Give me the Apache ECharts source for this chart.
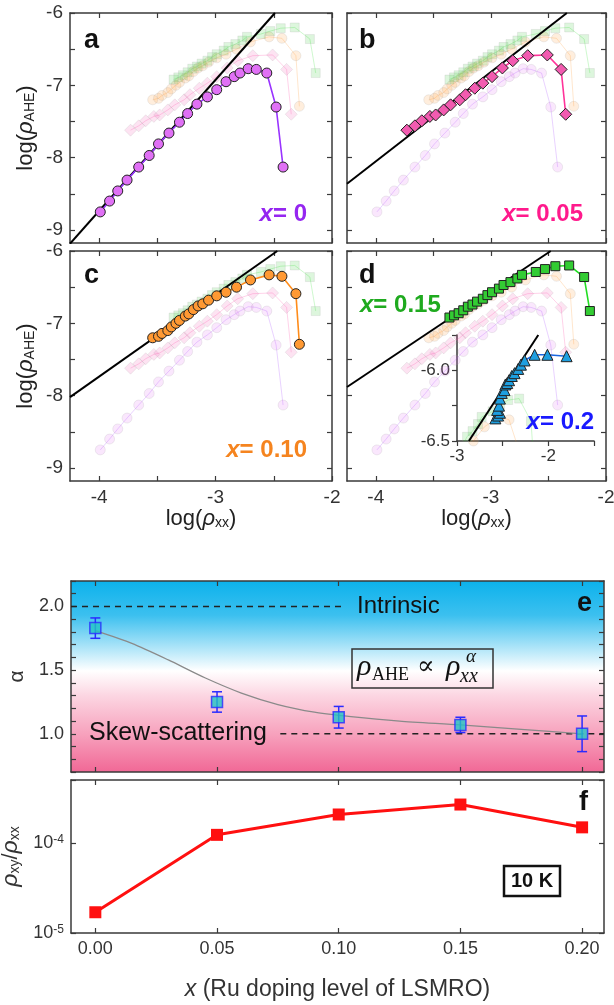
<!DOCTYPE html>
<html>
<head>
<meta charset="utf-8">
<script src="https://cdn.jsdelivr.net/npm/echarts@6/dist/echarts.min.js"></script>
<style>
html, body { margin: 0; padding: 0; background: #fff; }
#main { width: 614px; height: 1005px; }
</style>
</head>
<body>
<div id="main"></div>
<script>
var rxx0  = [-3.99, -3.91, -3.84, -3.76, -3.66, -3.57, -3.49, -3.40, -3.31, -3.24, -3.16, -3.07, -2.99, -2.91, -2.84, -2.79, -2.72, -2.65, -2.56, -2.48, -2.42];
var rahe0 = [-8.75, -8.60, -8.46, -8.31, -8.13, -7.97, -7.81, -7.66, -7.51, -7.39, -7.26, -7.16, -7.06, -6.95, -6.88, -6.83, -6.77, -6.78, -6.83, -7.30, -8.13];
var rxx05  = [-3.73, -3.66, -3.60, -3.53, -3.48, -3.41, -3.35, -3.27, -3.22, -3.14, -3.07, -2.99, -2.90, -2.81, -2.68, -2.51, -2.39, -2.35];
var rahe05 = [-7.62, -7.56, -7.49, -7.43, -7.41, -7.34, -7.27, -7.20, -7.13, -7.04, -6.97, -6.88, -6.76, -6.66, -6.59, -6.58, -6.78, -7.40];
var rxx10  = [-3.54, -3.49, -3.46, -3.41, -3.38, -3.34, -3.31, -3.26, -3.23, -3.19, -3.15, -3.11, -3.06, -2.99, -2.91, -2.82, -2.70, -2.54, -2.43, -2.31, -2.28];
var rahe10 = [-7.20, -7.18, -7.14, -7.10, -7.05, -7.00, -6.96, -6.90, -6.87, -6.81, -6.76, -6.73, -6.68, -6.62, -6.57, -6.50, -6.40, -6.33, -6.35, -6.59, -7.29];
var rxx15  = [-3.36, -3.32, -3.28, -3.24, -3.20, -3.16, -3.12, -3.07, -3.03, -2.99, -2.93, -2.89, -2.83, -2.77, -2.73, -2.61, -2.53, -2.44, -2.32, -2.19, -2.14];
var rahe15 = [-6.92, -6.89, -6.86, -6.82, -6.77, -6.74, -6.70, -6.66, -6.61, -6.57, -6.52, -6.47, -6.43, -6.38, -6.33, -6.29, -6.25, -6.21, -6.20, -6.36, -6.83];
var rxx20  = [-2.58, -2.55, -2.53, -2.56, -2.54, -2.53, -2.51, -2.48, -2.47, -2.45, -2.43, -2.40, -2.37, -2.33, -2.30, -2.26, -2.15, -2.01, -1.80];
var rahe20 = [-6.34, -6.32, -6.30, -6.28, -6.25, -6.20, -6.16, -6.14, -6.10, -6.09, -6.07, -6.04, -6.02, -5.99, -5.96, -5.93, -5.89, -5.89, -5.90];

// power-law fits (end points)
var fitA = [[-4.25, -9.19], [-2.49, -6.0]];
var fitB = [[-4.25, -8.36], [-2.34, -6.0]];
var fitC = [[-4.25, -8.02], [-2.47, -6.0]];
var fitD = [[-4.25, -7.88], [-2.48, -6.0]];
var fitInset = [[-2.87, -6.5], [-2.11, -5.75]];

// panel e / f
var doping = [0, 0.05, 0.10, 0.15, 0.20];
var alpha = [1.83, 1.25, 1.13, 1.07, 1.00];
var alphaErr = [0.08, 0.08, 0.085, 0.06, 0.14];
var fitDop = [0, 0.015, 0.03, 0.045, 0.06, 0.075, 0.09, 0.105, 0.125, 0.15, 0.175, 0.20];
var fitAlpha = [1.81, 1.71, 1.58, 1.44, 1.32, 1.23, 1.17, 1.135, 1.10, 1.07, 1.035, 1.00];
var intrinsicLine = [[-0.01, 2.0], [0.101, 2.0]];
var skewLine = [[0.076, 1.0], [0.209, 1.0]];
var ratio = [1.7e-5, 1.23e-4, 2.07e-4, 2.67e-4, 1.49e-4];

// ticks / labels
var panelTicksX = [-4, -3.5, -3, -2.5, -2];
var panelLabX = [-4, -3, -2];
var panelTicksY = [-9, -8.5, -8, -7.5, -7, -6.5, -6];
var panelLabY = [-9, -8, -7, -6];
var insetTicksX = [-3, -2.5, -2, -1.5];
var insetLabX = [-3, -2];
var insetTicksY = [-6.5, -6.25, -6, -5.75];
var insetLabY = [-6.5, -6.0];
var dopTicks = [0, 0.05, 0.10, 0.15, 0.20];
var alphaLab = [1.0, 1.5, 2.0];
var alphaTicks = [];
for (var t = 7; t <= 22; t++) alphaTicks.push(t / 10);

var FONT = 'Liberation Sans, Arial, sans-serif';
var SERIF = 'Liberation Serif, DejaVu Serif, serif';
var axisCol = '#3a3a3a';

function zip(a, b) {
    return a.map(function (v, i) { return [v, b[i]]; });
}

var sets = [
    {rxx: rxx0, rahe: rahe0, symbol: 'circle', size: 10, fill: '#e070f5', line: '#9933ff'},
    {rxx: rxx05, rahe: rahe05, symbol: 'diamond', size: 12, fill: '#f25bb0', line: '#ff3399'},
    {rxx: rxx10, rahe: rahe10, symbol: 'circle', size: 10, fill: '#ff9933', line: '#ff8c1a'},
    {rxx: rxx15, rahe: rahe15, symbol: 'rect', size: 9, fill: '#33cc33', line: '#22dd22'}
];
var set20 = {rxx: rxx20, rahe: rahe20, symbol: 'triangle', size: 11, fill: '#1e9fe0', line: '#1a66e0'};

var grids = [
    {left: 70, top: 13, width: 262, height: 230},   // a
    {left: 347, top: 13, width: 259, height: 230},  // b
    {left: 70, top: 251, width: 262, height: 230},  // c
    {left: 347, top: 251, width: 259, height: 230}, // d
    {left: 457, top: 335, width: 137, height: 106}, // inset
    {left: 71, top: 581, width: 533, height: 191, show: true, borderWidth: 0,
        backgroundColor: new echarts.graphic.LinearGradient(0, 0, 0, 1, [
            {offset: 0, color: '#0cb2ec'},
            {offset: 0.18, color: '#3cc0ef'},
            {offset: 0.47, color: '#ffffff'},
            {offset: 0.6, color: '#fcd6e2'},
            {offset: 0.8, color: '#f7a2bd'},
            {offset: 1, color: '#f16896'}
        ])},                                          // e
    {left: 71, top: 780, width: 533, height: 153}    // f
];
grids.forEach(function (g) { g.outerBoundsMode = 'none'; });

var xAxes = [], yAxes = [];

var nameRich = {
    r: {fontFamily: FONT, fontSize: 22, fontStyle: 'italic', color: '#222'},
    s: {fontFamily: FONT, fontSize: 14, color: '#222', verticalAlign: 'bottom', lineHeight: 14}
};

function addAxes(gi, o) {
    var xi = xAxes.length, yi = yAxes.length;
    var lineStyle = {color: axisCol, width: 1.5};
    var tickStyle = {color: axisCol, width: 1.2};
    var lab = {color: '#333', fontSize: o.fs || 19, fontFamily: FONT, margin: 7};
    var xb = {
        gridIndex: gi, type: 'value', min: o.xMin, max: o.xMax, position: 'bottom',
        splitLine: {show: false},
        axisLine: {show: true, onZero: false, lineStyle: lineStyle},
        axisTick: {show: true, inside: o.inside, length: 5, customValues: o.xTicks, lineStyle: tickStyle},
        axisLabel: o.xLab ? Object.assign({customValues: o.xLab, formatter: o.xFmt}, lab) : {show: false}
    };
    if (o.xName) {
        xb.name = o.xName;
        xb.nameLocation = 'middle';
        xb.nameGap = o.xNameGap;
        xb.nameTextStyle = o.xNameStyle;
    }
    xAxes.push(xb);
    var yb = {
        gridIndex: gi, type: o.yType || 'value', min: o.yMin, max: o.yMax, position: 'left',
        splitLine: {show: false},
        axisLine: {show: true, onZero: false, lineStyle: lineStyle},
        axisTick: {show: true, inside: o.inside, length: 5, lineStyle: tickStyle},
        axisLabel: o.yLab ? Object.assign({formatter: o.yFmt}, lab) : {show: false}
    };
    if (o.yTicks) yb.axisTick.customValues = o.yTicks;
    if (o.yLab && o.yLab !== true) yb.axisLabel.customValues = o.yLab;
    if (o.yLabRich) yb.axisLabel.rich = o.yLabRich;
    if (o.yName) {
        yb.name = o.yName;
        yb.nameLocation = 'middle';
        yb.nameGap = o.yNameGap;
        yb.nameTextStyle = o.yNameStyle;
    }
    yAxes.push(yb);
    if (o.box) {
        var xt = JSON.parse(JSON.stringify(xb));
        xt.position = 'top'; xt.axisLabel = {show: false}; xt.name = '';
        xAxes.push(xt);
        var yt = JSON.parse(JSON.stringify(yb));
        yt.position = 'right'; yt.axisLabel = {show: false}; yt.name = '';
        yAxes.push(yt);
    }
    return {x: xi, y: yi};
}

function intFmt(v) { return String(v); }

var logNameStyle = {fontFamily: FONT, fontSize: 22, color: '#222', rich: nameRich};

var panelAx = [];
for (var p = 0; p < 4; p++) {
    var left = (p % 2 === 0), bottom = (p >= 2);
    panelAx.push(addAxes(p, {
        xMin: -4.25, xMax: -2, yMin: -9.18, yMax: -6, inside: true, box: true,
        xTicks: panelTicksX, yTicks: panelTicksY,
        xLab: bottom ? panelLabX : null, xFmt: intFmt,
        yLab: left ? panelLabY : null, yFmt: intFmt,
        xName: bottom ? 'log({r|ρ}{s|xx})' : null, xNameGap: 27, xNameStyle: logNameStyle,
        yName: left ? 'log({r|ρ}{s|AHE})' : null, yNameGap: 33, yNameStyle: logNameStyle
    }));
}
var insetAx = addAxes(4, {
    xMin: -3, xMax: -1.5, yMin: -6.5, yMax: -5.75, inside: false, box: false,
    xTicks: insetTicksX, yTicks: insetTicksY, fs: 17,
    xLab: insetLabX, xFmt: intFmt,
    yLab: insetLabY, yFmt: function (v) { return v.toFixed(1); }
});
var eAx = addAxes(5, {
    xMin: -0.01, xMax: 0.209, yMin: 0.7, yMax: 2.2, inside: true, box: true,
    xTicks: dopTicks, yTicks: alphaTicks, fs: 18,
    yLab: alphaLab, yFmt: function (v) { return v.toFixed(1); },
    yName: 'α', yNameGap: 42, yNameStyle: {fontFamily: FONT, fontSize: 21, color: '#333'}
});
var fAx = addAxes(6, {
    xMin: -0.01, xMax: 0.209, yMin: 1e-5, yMax: 5e-4, yType: 'log', inside: true, box: true,
    xTicks: dopTicks, fs: 18,
    xLab: dopTicks, xFmt: function (v) { return v.toFixed(2); },
    xName: '{i|x} (Ru doping level of LSMRO)', xNameGap: 45,
    xNameStyle: {fontFamily: FONT, fontSize: 23, color: '#333', rich: {i: {fontFamily: FONT, fontSize: 23, fontStyle: 'italic', color: '#333'}}},
    yLab: true,
    yFmt: function (v) {
        var e = Math.log10(v);
        if (Math.abs(e - Math.round(e)) > 1e-6) return '';
        return '10{sup|' + Math.round(e) + '}';
    },
    yLabRich: {sup: {fontSize: 12, fontFamily: FONT, color: '#333', verticalAlign: 'top', lineHeight: 12}},
    yName: '{r|ρ}{s|xy}/{r|ρ}{s|xx}', yNameGap: 39,
    yNameStyle: {fontFamily: FONT, fontSize: 22, color: '#333', rich: {
        r: {fontFamily: FONT, fontSize: 23, fontStyle: 'italic', color: '#333'},
        s: {fontFamily: FONT, fontSize: 14, color: '#333', verticalAlign: 'bottom', lineHeight: 14}
    }}
});

var series = [];

function dataSeries(ax, s, hi) {
    return {
        type: 'line', xAxisIndex: ax.x, yAxisIndex: ax.y,
        data: zip(s.rxx, s.rahe),
        symbol: s.symbol, symbolSize: s.size, showSymbol: true,
        lineStyle: {color: s.line, width: hi ? 1.6 : 1, opacity: hi ? 1 : 0.22},
        itemStyle: {color: s.fill, borderColor: hi ? '#222' : '#999', borderWidth: 1, opacity: hi ? 1 : 0.17},
        z: hi ? 5 : 2, silent: true
    };
}
function fitSeries(ax, pts) {
    return {
        type: 'line', xAxisIndex: ax.x, yAxisIndex: ax.y, data: pts,
        showSymbol: false, symbol: 'none', lineStyle: {color: '#000', width: 2}, z: 4, silent: true
    };
}

var fits = [fitA, fitB, fitC, fitD];
for (var q = 0; q < 4; q++) {
    for (var k = 0; k < 4; k++) {
        series.push(dataSeries(panelAx[q], sets[k], k === q));
    }
    series.push(fitSeries(panelAx[q], fits[q]));
}
for (var k2 = 0; k2 < 4; k2++) series.push(dataSeries(insetAx, sets[k2], false));
series.push(fitSeries(insetAx, fitInset));
series.push(dataSeries(insetAx, set20, true));

// panel e
series.push({
    type: 'line', xAxisIndex: eAx.x, yAxisIndex: eAx.y, data: intrinsicLine,
    symbol: 'none', lineStyle: {color: '#222', width: 1.5, type: [6, 5]}, silent: true, z: 2
});
series.push({
    type: 'line', xAxisIndex: eAx.x, yAxisIndex: eAx.y, data: skewLine,
    symbol: 'none', lineStyle: {color: '#222', width: 1.5, type: [6, 5]}, silent: true, z: 2
});
series.push({
    type: 'line', xAxisIndex: eAx.x, yAxisIndex: eAx.y, data: zip(fitDop, fitAlpha),
    symbol: 'none', smooth: 0.25, lineStyle: {color: '#8a8a8a', width: 1.3}, silent: true, z: 3
});
series.push({
    type: 'custom', xAxisIndex: eAx.x, yAxisIndex: eAx.y, silent: true, z: 4,
    data: doping.map(function (x, i) { return [x, alpha[i] - alphaErr[i], alpha[i] + alphaErr[i]]; }),
    encode: {x: 0, y: [1, 2]},
    renderItem: function (params, api) {
        var x = api.value(0);
        var top = api.coord([x, api.value(2)]);
        var bot = api.coord([x, api.value(1)]);
        var w = 5;
        var st = {stroke: '#2a2aff', lineWidth: 1.5};
        return {
            type: 'group', children: [
                {type: 'line', shape: {x1: top[0], y1: top[1], x2: bot[0], y2: bot[1]}, style: st},
                {type: 'line', shape: {x1: top[0] - w, y1: top[1], x2: top[0] + w, y2: top[1]}, style: st},
                {type: 'line', shape: {x1: bot[0] - w, y1: bot[1], x2: bot[0] + w, y2: bot[1]}, style: st}
            ]
        };
    }
});
series.push({
    type: 'scatter', xAxisIndex: eAx.x, yAxisIndex: eAx.y, data: zip(doping, alpha),
    symbol: 'rect', symbolSize: 11,
    itemStyle: {color: '#22c4c4', borderColor: '#2a2aff', borderWidth: 1.5}, silent: true, z: 5
});

// panel f
series.push({
    type: 'line', xAxisIndex: fAx.x, yAxisIndex: fAx.y, data: zip(doping, ratio),
    symbol: 'rect', symbolSize: 12, showSymbol: true,
    lineStyle: {color: '#ff1010', width: 3}, itemStyle: {color: '#ff1010'}, silent: true, z: 5
});

// text & boxes
function txt(x, y, text, style) {
    return {type: 'text', x: x, y: y, silent: true, z: 100,
        style: Object.assign({text: text, verticalAlign: 'middle', align: 'left'}, style)};
}
function letter(x, y, ch, align) {
    return txt(x, y, ch, {fontFamily: FONT, fontWeight: 'bold', fontSize: 27, fill: '#111', align: align || 'left'});
}
function doseLabel(x, y, val, col, align) {
    return txt(x, y, '{i|x}{n|= ' + val + '}', {
        align: align,
        rich: {
            i: {fontFamily: FONT, fontSize: 24, fontWeight: 'bold', fontStyle: 'italic', fill: col},
            n: {fontFamily: FONT, fontSize: 24, fontWeight: 'bold', fill: col}
        }
    });
}
var serifIt = {fontFamily: SERIF, fontStyle: 'italic', fill: '#111'};

var graphics = [
    letter(84, 41, 'a'), letter(359, 41, 'b'), letter(84, 276, 'c'), letter(359, 276, 'd'),
    letter(592, 604, 'e', 'right'), letter(588, 803, 'f', 'right'),
    doseLabel(307, 214, '0', '#9526f0', 'right'),
    doseLabel(583, 214, '0.05', '#ff1a8c', 'right'),
    doseLabel(307, 450, '0.10', '#f5841f', 'right'),
    doseLabel(360, 305, '0.15', '#1faa1f', 'left'),
    doseLabel(594, 422, '0.2', '#1a1aff', 'right'),
    txt(357, 606, 'Intrinsic', {fontFamily: FONT, fontSize: 24, fill: '#111'}),
    txt(89, 733, 'Skew-scattering', {fontFamily: FONT, fontSize: 25, fill: '#111'}),
    {type: 'rect', silent: true, z: 90, shape: {x: 352, y: 649, width: 141, height: 39},
        style: {fill: 'rgba(0,0,0,0)', stroke: '#333', lineWidth: 1.5}},
    txt(357, 667, 'ρ', Object.assign({fontSize: 30}, serifIt)),
    txt(372, 675, 'AHE', {fontFamily: SERIF, fontSize: 18, fill: '#111'}),
    txt(417, 667, '∝', {fontFamily: SERIF, fontSize: 26, fill: '#111'}),
    txt(446, 667, 'ρ', Object.assign({fontSize: 30}, serifIt)),
    txt(460, 677, 'xx', Object.assign({fontSize: 20}, serifIt)),
    txt(466, 657, 'α', Object.assign({fontSize: 19}, serifIt)),
    {type: 'rect', silent: true, z: 90, shape: {x: 504, y: 866, width: 56, height: 30},
        style: {fill: '#fff', stroke: '#111', lineWidth: 2.5}},
    txt(532, 881, '10 K', {fontFamily: FONT, fontSize: 20, fontWeight: 'bold', fill: '#111', align: 'center'})
];

var chart = echarts.init(document.getElementById('main'));
chart.setOption({
    animation: false,
    backgroundColor: '#fff',
    grid: grids,
    xAxis: xAxes,
    yAxis: yAxes,
    series: series,
    graphic: graphics
});
</script>
</body>
</html>
